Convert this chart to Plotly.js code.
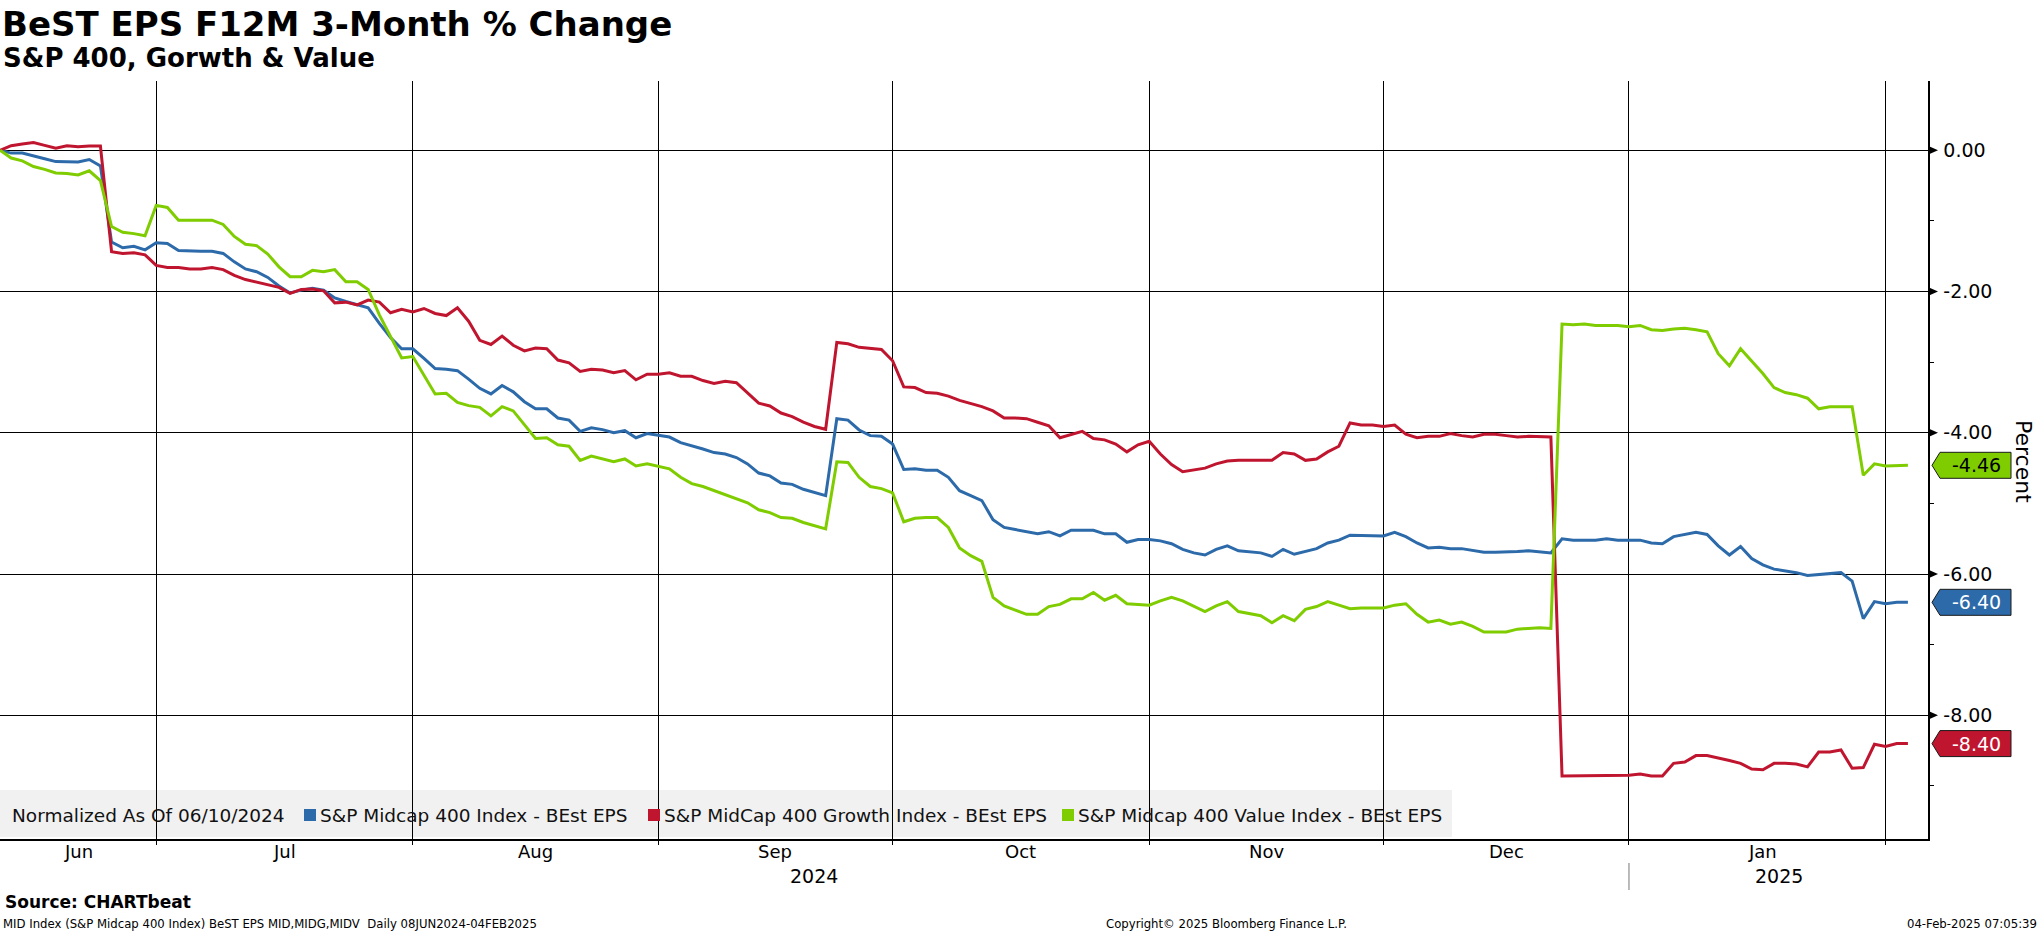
<!DOCTYPE html>
<html><head><meta charset="utf-8">
<script src="https://cdn.plot.ly/plotly-3.0.1.min.js"></script>
<style>html,body{margin:0;padding:0;background:#fff;overflow:hidden}#chart{width:2041px;height:932px}</style>
</head><body><div id="chart"></div>
<script>
// ---------- DATA ----------
const dates = [
"2024-06-10","2024-06-11","2024-06-12","2024-06-13","2024-06-14","2024-06-17","2024-06-18","2024-06-19","2024-06-20","2024-06-21","2024-06-24","2024-06-25","2024-06-26","2024-06-27","2024-06-28",
"2024-07-01","2024-07-02","2024-07-03","2024-07-04","2024-07-05","2024-07-08","2024-07-09","2024-07-10","2024-07-11","2024-07-12","2024-07-15","2024-07-16","2024-07-17","2024-07-18","2024-07-19","2024-07-22","2024-07-23","2024-07-24","2024-07-25","2024-07-26","2024-07-29","2024-07-30","2024-07-31",
"2024-08-01","2024-08-02","2024-08-05","2024-08-06","2024-08-07","2024-08-08","2024-08-09","2024-08-12","2024-08-13","2024-08-14","2024-08-15","2024-08-16","2024-08-19","2024-08-20","2024-08-21","2024-08-22","2024-08-23","2024-08-26","2024-08-27","2024-08-28","2024-08-29","2024-08-30",
"2024-09-02","2024-09-03","2024-09-04","2024-09-05","2024-09-06","2024-09-09","2024-09-10","2024-09-11","2024-09-12","2024-09-13","2024-09-16","2024-09-17","2024-09-18","2024-09-19","2024-09-20","2024-09-23","2024-09-24","2024-09-25","2024-09-26","2024-09-27","2024-09-30",
"2024-10-01","2024-10-02","2024-10-03","2024-10-04","2024-10-07","2024-10-08","2024-10-09","2024-10-10","2024-10-11","2024-10-14","2024-10-15","2024-10-16","2024-10-17","2024-10-18","2024-10-21","2024-10-22","2024-10-23","2024-10-24","2024-10-25","2024-10-28","2024-10-29","2024-10-30","2024-10-31",
"2024-11-01","2024-11-04","2024-11-05","2024-11-06","2024-11-07","2024-11-08","2024-11-11","2024-11-12","2024-11-13","2024-11-14","2024-11-15","2024-11-18","2024-11-19","2024-11-20","2024-11-21","2024-11-22","2024-11-25","2024-11-26","2024-11-27","2024-11-28","2024-11-29",
"2024-12-02","2024-12-03","2024-12-04","2024-12-05","2024-12-06","2024-12-09","2024-12-10","2024-12-11","2024-12-12","2024-12-13","2024-12-16","2024-12-17","2024-12-18","2024-12-19","2024-12-20","2024-12-23","2024-12-24","2024-12-25","2024-12-26","2024-12-27","2024-12-30","2024-12-31",
"2025-01-01","2025-01-02","2025-01-03","2025-01-06","2025-01-07","2025-01-08","2025-01-09","2025-01-10","2025-01-13","2025-01-14","2025-01-15","2025-01-16","2025-01-17","2025-01-20","2025-01-21","2025-01-22","2025-01-23","2025-01-24","2025-01-27","2025-01-28","2025-01-29","2025-01-30","2025-01-31",
"2025-02-03","2025-02-04"];

const midcap400 = [
0,-0.04,-0.04,-0.075,-0.12,-0.16,-0.16,-0.165,-0.13,-0.22,-1.30,-1.38,-1.36,-1.41,-1.31,
-1.32,-1.42,-1.43,-1.43,-1.43,-1.46,-1.58,-1.68,-1.72,-1.80,-1.92,-2.02,-1.98,-1.955,-1.98,-2.09,-2.14,-2.18,-2.23,-2.45,-2.65,-2.81,-2.81,
-2.945,-3.09,-3.10,-3.12,-3.24,-3.37,-3.45,-3.33,-3.42,-3.56,-3.66,-3.66,-3.79,-3.82,-3.98,-3.93,-3.955,-4.00,-3.97,-4.07,-4.01,-4.04,
-4.06,-4.14,-4.18,-4.23,-4.28,-4.30,-4.35,-4.44,-4.57,-4.61,-4.71,-4.73,-4.80,-4.84,-4.89,-3.80,-3.82,-3.96,-4.04,-4.05,-4.16,
-4.52,-4.51,-4.53,-4.53,-4.63,-4.82,-4.89,-4.96,-5.23,-5.34,-5.37,-5.40,-5.43,-5.40,-5.46,-5.38,-5.38,-5.38,-5.43,-5.43,-5.55,-5.51,-5.51,
-5.53,-5.57,-5.65,-5.70,-5.73,-5.65,-5.60,-5.67,-5.68,-5.70,-5.75,-5.65,-5.72,-5.68,-5.64,-5.56,-5.52,-5.45,-5.45,-5.45,-5.46,
-5.41,-5.47,-5.56,-5.63,-5.62,-5.64,-5.64,-5.66,-5.69,-5.69,-5.69,-5.68,-5.67,-5.68,-5.70,-5.50,-5.52,-5.52,-5.52,-5.50,-5.52,-5.52,
-5.52,-5.56,-5.57,-5.47,-5.44,-5.41,-5.44,-5.60,-5.73,-5.61,-5.78,-5.87,-5.93,-5.95,-5.98,-6.02,-6.01,-5.99,-5.98,-6.10,-6.63,-6.39,-6.42,
-6.40,-6.40];

const growth400 = [
0,0.065,0.09,0.11,0.07,0.03,0.065,0.05,0.06,0.06,-1.435,-1.46,-1.45,-1.48,-1.63,
-1.66,-1.66,-1.68,-1.68,-1.66,-1.69,-1.77,-1.83,-1.87,-1.91,-1.94,-2.025,-1.97,-1.965,-1.99,-2.16,-2.15,-2.19,-2.12,-2.15,-2.30,-2.25,-2.29,
-2.24,-2.31,-2.34,-2.23,-2.42,-2.69,-2.75,-2.63,-2.76,-2.84,-2.80,-2.81,-2.97,-3.01,-3.13,-3.10,-3.11,-3.15,-3.12,-3.25,-3.17,-3.17,
-3.15,-3.20,-3.20,-3.26,-3.30,-3.27,-3.29,-3.44,-3.58,-3.62,-3.72,-3.77,-3.85,-3.91,-3.95,-2.72,-2.74,-2.79,-2.81,-2.82,-2.98,
-3.35,-3.36,-3.43,-3.44,-3.48,-3.54,-3.58,-3.63,-3.69,-3.79,-3.79,-3.80,-3.85,-3.90,-4.07,-4.02,-3.98,-4.08,-4.10,-4.16,-4.27,-4.17,-4.12,
-4.30,-4.45,-4.55,-4.52,-4.50,-4.44,-4.40,-4.39,-4.39,-4.39,-4.39,-4.28,-4.30,-4.39,-4.37,-4.27,-4.19,-3.86,-3.89,-3.89,-3.91,
-3.89,-4.02,-4.07,-4.05,-4.05,-4.01,-4.04,-4.06,-4.02,-4.02,-4.04,-4.06,-4.05,-4.06,-4.06,-8.86,-8.86,-8.86,-8.85,-8.85,-8.85,-8.85,
-8.83,-8.86,-8.86,-8.68,-8.66,-8.57,-8.57,-8.60,-8.64,-8.68,-8.76,-8.77,-8.68,-8.68,-8.69,-8.73,-8.52,-8.52,-8.49,-8.75,-8.74,-8.41,-8.44,
-8.40,-8.40];

const value400 = [
0,-0.11,-0.15,-0.23,-0.27,-0.32,-0.33,-0.35,-0.29,-0.43,-1.08,-1.16,-1.18,-1.21,-0.78,
-0.81,-0.99,-0.99,-0.99,-0.99,-1.05,-1.22,-1.33,-1.35,-1.47,-1.65,-1.79,-1.79,-1.70,-1.72,-1.69,-1.86,-1.86,-1.97,-2.33,-2.63,-2.94,-2.92,
-3.18,-3.45,-3.44,-3.57,-3.615,-3.64,-3.76,-3.63,-3.69,-3.89,-4.08,-4.07,-4.17,-4.19,-4.39,-4.33,-4.37,-4.41,-4.37,-4.47,-4.44,-4.48,
-4.51,-4.63,-4.72,-4.76,-4.82,-4.87,-4.93,-4.99,-5.09,-5.13,-5.20,-5.21,-5.27,-5.31,-5.36,-4.41,-4.42,-4.63,-4.76,-4.79,-4.85,
-5.26,-5.21,-5.20,-5.20,-5.34,-5.63,-5.74,-5.82,-6.33,-6.45,-6.51,-6.57,-6.57,-6.46,-6.43,-6.35,-6.35,-6.26,-6.37,-6.30,-6.42,-6.43,-6.44,
-6.38,-6.33,-6.38,-6.46,-6.53,-6.45,-6.39,-6.53,-6.56,-6.59,-6.69,-6.59,-6.66,-6.50,-6.46,-6.39,-6.44,-6.49,-6.48,-6.48,-6.48,
-6.44,-6.42,-6.57,-6.68,-6.65,-6.71,-6.68,-6.74,-6.82,-6.82,-6.82,-6.78,-6.77,-6.76,-6.77,-2.46,-2.47,-2.46,-2.48,-2.48,-2.48,-2.50,
-2.48,-2.54,-2.55,-2.53,-2.52,-2.54,-2.57,-2.88,-3.05,-2.81,-2.98,-3.16,-3.36,-3.43,-3.46,-3.51,-3.66,-3.63,-3.63,-3.63,-4.60,-4.44,-4.47,
-4.47,-4.46];

const seriesNames = ["S&P Midcap 400 Index - BEst EPS","S&P MidCap 400 Growth Index - BEst EPS","S&P Midcap 400 Value Index - BEst EPS"];
const seriesValues = [midcap400, growth400, value400];
const seriesColors = ["#2C6AAA","#C0152F","#7FCC00"];
const tagTextColors = ["#FFFFFF","#FFFFFF","#000000"];

const monthEnds = ["2024-06-28","2024-07-31","2024-08-30","2024-09-30","2024-10-31","2024-11-29","2024-12-31","2025-01-31"];
const monthLabels = ["Jun","Jul","Aug","Sep","Oct","Nov","Dec","Jan"];
const monthLabelDates = ["2024-06-19","2024-07-15 12:00","2024-08-15","2024-09-13 12:00","2024-10-15 12:00","2024-11-14 12:00","2024-12-16","2025-01-16"];
const yearLabels = ["2024","2025"];
const yearLabelDates = ["2024-09-19","2025-01-17 11:00"];
const yearBoundary = "2024-12-31";
const yTicks = [0,-2,-4,-6,-8];
const yMinorTicks = [-1,-3,-5,-7,-9];
const legendTitle = "Normalized As Of 06/10/2024";

// ---------- LAYOUT HELPERS ----------
const W = 2041, H = 932, ML = 0, MR = 113, MT = 81, MB = 93;
const plotW = W - ML - MR, plotH = H - MT - MB;
const px = x => (x - ML) / plotW;          // pixel -> paper x
const py = y => (H - MB - y) / plotH;      // pixel -> paper y
const FONT = "DejaVu Sans";

const traces = seriesValues.map((vals, i) => ({
  type: "scatter", mode: "lines", x: dates, y: vals, name: seriesNames[i],
  line: {color: seriesColors[i], width: 3}, showlegend: false, hoverinfo: "skip"
}));

const shapes = [];
const annotations = [];

// legend box
shapes.push({type: "rect", xref: "paper", yref: "paper", x0: px(0), x1: px(1452), y0: py(837), y1: py(790),
  fillcolor: "#F1F1F1", line: {width: 0}, layer: "below"});
annotations.push({xref: "paper", yref: "paper", x: px(10), y: py(815), xanchor: "left", yanchor: "middle",
  text: legendTitle, showarrow: false, font: {family: FONT, size: 18.5, color: "#111"}});
const legSquareX = [304, 648, 1062];
seriesNames.forEach((n, i) => {
  shapes.push({type: "rect", xref: "paper", yref: "paper", x0: px(legSquareX[i]), x1: px(legSquareX[i] + 12),
    y0: py(821), y1: py(809), fillcolor: seriesColors[i], line: {width: 0}, layer: "above"});
  annotations.push({xref: "paper", yref: "paper", x: px(legSquareX[i] + 14), y: py(815), xanchor: "left", yanchor: "middle",
    text: n, showarrow: false, font: {family: FONT, size: 18.5, color: "#111"}});
});

// major tick triangles on the y axis
yTicks.forEach(v => {
  shapes.push({type: "path", xref: "paper", yref: "y", xsizemode: "pixel", ysizemode: "pixel", xanchor: 1, yanchor: v,
    path: "M1,-4L10,0L1,4Z", fillcolor: "#000", line: {width: 0}, layer: "above"});
});

// last-value tags
seriesValues.forEach((vals, i) => {
  const last = vals[vals.length - 1];
  shapes.push({type: "path", xref: "paper", yref: "y", xsizemode: "pixel", ysizemode: "pixel", xanchor: 1, yanchor: last,
    path: "M4,0L12,13L83,13L83,-13L12,-13Z", fillcolor: seriesColors[i], line: {color: "#1a1a1a", width: 1}, layer: "above"});
  annotations.push({xref: "paper", yref: "y", x: px(1977), y: last, xanchor: "center", yanchor: "middle",
    text: last.toFixed(2), showarrow: false, font: {family: FONT, size: 19, color: tagTextColors[i]}});
});

// month labels & years
monthLabels.forEach((m, i) => {
  annotations.push({xref: "x", yref: "paper", x: monthLabelDates[i], y: py(851), xanchor: "center", yanchor: "middle",
    text: m, showarrow: false, font: {family: FONT, size: 18, color: "#000"}});
});
yearLabels.forEach((yl, i) => {
  annotations.push({xref: "x", yref: "paper", x: yearLabelDates[i], y: py(876), xanchor: "center", yanchor: "middle",
    text: yl, showarrow: false, font: {family: FONT, size: 19, color: "#000"}});
});
shapes.push({type: "line", xref: "x", yref: "paper", x0: yearBoundary, x1: yearBoundary, y0: py(863), y1: py(890),
  line: {color: "#777", width: 1}});

// axis title "Percent"
annotations.push({xref: "paper", yref: "paper", x: px(2024), y: py(461), xanchor: "center", yanchor: "middle",
  text: "Percent", textangle: 90, showarrow: false, font: {family: FONT, size: 22, color: "#000"}});

// subtitle
annotations.push({xref: "paper", yref: "paper", x: px(1), y: py(58), xanchor: "left", yanchor: "middle",
  text: "<b>S&P 400, Gorwth & Value</b>", showarrow: false, font: {family: FONT, size: 26, color: "#000"}});

// footer
annotations.push({xref: "paper", yref: "paper", x: px(3), y: py(902), xanchor: "left", yanchor: "middle",
  text: "<b>Source: CHARTbeat</b>", showarrow: false, font: {family: FONT, size: 17, color: "#000"}});
annotations.push({xref: "paper", yref: "paper", x: px(1), y: py(924), xanchor: "left", yanchor: "middle",
  text: "MID Index (S&P Midcap 400 Index) BeST EPS MID,MIDG,MIDV  Daily 08JUN2024-04FEB2025", showarrow: false,
  font: {family: FONT, size: 11.7, color: "#000"}});
annotations.push({xref: "paper", yref: "paper", x: px(1104), y: py(924), xanchor: "left", yanchor: "middle",
  text: "Copyright© 2025 Bloomberg Finance L.P.", showarrow: false, font: {family: FONT, size: 11.7, color: "#000"}});
annotations.push({xref: "paper", yref: "paper", x: px(2039), y: py(924), xanchor: "right", yanchor: "middle",
  text: "04-Feb-2025 07:05:39", showarrow: false, font: {family: FONT, size: 11.7, color: "#000"}});

const layout = {
  width: W, height: H,
  margin: {l: ML, r: MR, t: MT, b: MB, pad: 0},
  paper_bgcolor: "#FFFFFF", plot_bgcolor: "#FFFFFF",
  font: {family: FONT, color: "#000"},
  title: {text: "<b>BeST EPS F12M 3-Month % Change</b>", x: 0.001, xref: "container", xanchor: "left",
          y: 1 - 24 / H, yref: "container", yanchor: "middle", font: {family: FONT, size: 34, color: "#000"}},
  showlegend: false,
  xaxis: {
    type: "date", range: ["2024-06-10", "2025-02-05 19:12"],
    rangebreaks: [{bounds: ["sat", "mon"]}],
    tickmode: "array", tickvals: monthEnds, showticklabels: false,
    ticks: "outside", ticklen: 4, tickcolor: "#000", tickwidth: 1,
    showgrid: true, gridcolor: "#000", gridwidth: 1,
    showline: true, linecolor: "#000", linewidth: 2, zeroline: false, fixedrange: true
  },
  yaxis: {
    side: "right", range: [-9.751, 0.981],
    tickmode: "array", tickvals: yTicks, ticktext: yTicks.map(v => v.toFixed(2)),
    ticks: "outside", ticklen: 10, tickcolor: "rgba(0,0,0,0)",
    tickfont: {family: FONT, size: 19, color: "#000"},
    minor: {tickmode: "array", tickvals: yMinorTicks, ticks: "outside", ticklen: 4, tickcolor: "#000", tickwidth: 1, showgrid: false},
    showgrid: true, gridcolor: "#000", gridwidth: 1,
    showline: true, linecolor: "#000", linewidth: 1.5, zeroline: false, fixedrange: true
  },
  shapes: shapes,
  annotations: annotations
};

Plotly.newPlot("chart", traces, layout, {displayModeBar: false, staticPlot: true});
</script>
</body></html>
